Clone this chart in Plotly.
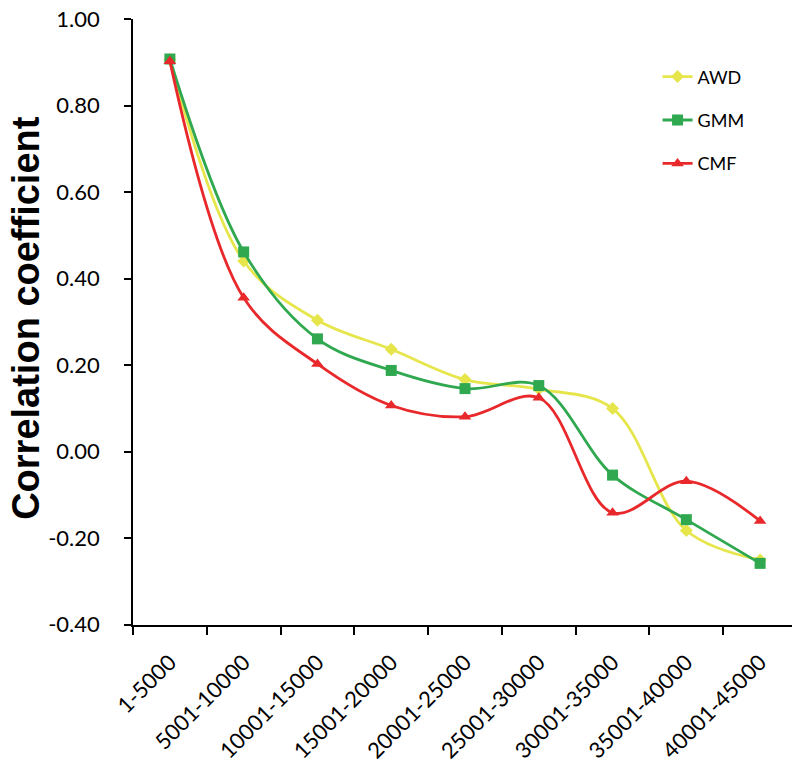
import plotly.graph_objects as go

categories = ["1-5000", "5001-10000", "10001-15000", "15001-20000", "20001-25000",
              "25001-30000", "30001-35000", "35001-40000", "40001-45000"]
awd = [0.907, 0.441, 0.304, 0.237, 0.167, 0.145, 0.100, -0.182, -0.250]
gmm = [0.908, 0.462, 0.261, 0.188, 0.146, 0.153, -0.054, -0.157, -0.258]
cmf = [0.903, 0.356, 0.203, 0.107, 0.081, 0.125, -0.141, -0.068, -0.160]

y_tick_vals = [1.0, 0.8, 0.6, 0.4, 0.2, 0.0, -0.2, -0.4]
y_tick_labels = ["1.00", "0.80", "0.60", "0.40", "0.20", "0.00", "-0.20", "-0.40"]

series = [
    ("AWD", awd, "#E6E64C", "diamond", 10),
    ("GMM", gmm, "#2FA84F", "square", 11),
    ("CMF", cmf, "#E8282A", "triangle-up", 11),
]

fig = go.Figure()
for name, vals, color, sym, size in series:
    fig.add_trace(go.Scatter(
        x=categories, y=vals, name=name, mode="lines+markers",
        line=dict(color=color, width=2.8, shape="spline", smoothing=1.0),
        marker=dict(color=color, symbol=sym, size=size),
        legendgroup=name,
    ))

tick_font = dict(family="Lato, 'Open Sans', sans-serif", size=22, color="black")

fig.update_layout(
    width=800, height=770,
    margin=dict(l=125, r=11, t=11, b=153, autoexpand=False),
    paper_bgcolor="white", plot_bgcolor="white",
    showlegend=True,
    legend=dict(x=0.79, y=0.935, xanchor="left", yanchor="top",
                font=dict(family="Lato, sans-serif", size=18, color="black"),
                tracegroupgap=17, bgcolor="rgba(0,0,0,0)"),
    xaxis=dict(
        type="category", range=[-0.5, 8.5],
        showline=True, linecolor="black", linewidth=1.5,
        ticks="outside", ticklen=8, tickcolor="black", tickwidth=1.5,
        tickson="boundaries", tickangle=-45, tickfont=tick_font,
        ticklabelstandoff=14, ticklabeloverflow="allow",
        showgrid=False, zeroline=False,
    ),
    yaxis=dict(
        range=[-0.4005, 1.0005], tickvals=y_tick_vals, ticktext=y_tick_labels,
        showline=True, linecolor="black", linewidth=1.5,
        ticks="outside", ticklen=7, tickcolor="black", tickwidth=1.5,
        tickfont=tick_font, ticklabelstandoff=20, ticklabeloverflow="allow",
        showgrid=False, zeroline=False,
    ),
    annotations=[dict(
        text="Correlation coefficient", textangle=-90,
        xref="paper", yref="paper", x=-0.161, y=0.507,
        xanchor="center", yanchor="middle", showarrow=False,
        font=dict(family="Liberation Sans, Arial, sans-serif", size=38, color="black",
                  weight="bold"),
    )],
)

fig.write_html("out.html")
